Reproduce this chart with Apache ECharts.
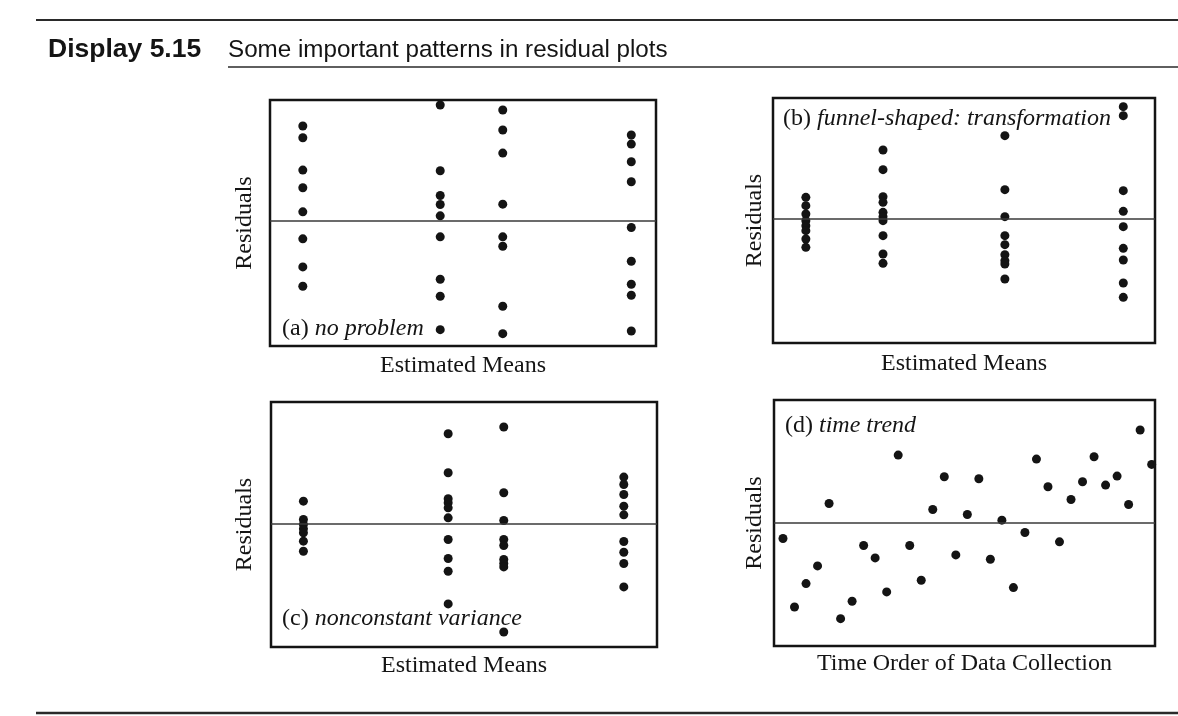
<!DOCTYPE html>
<html>
<head>
<meta charset="utf-8">
<style>
  html, body { margin: 0; padding: 0; background: #ffffff; }
  #chart { width: 1178px; height: 716px; }
</style>
<script src="https://cdn.jsdelivr.net/npm/echarts@6/dist/echarts.min.js"></script>
</head>
<body>
<div id="chart"></div>
<script>
// ---- Data ----
// Panel (a) no problem: estimated-mean positions of the four groups and residuals per group
const aMeans = [8.5, 44.1, 60.3, 93.6];
const aResiduals = [
  [2.84, 2.49, 1.52, 0.99, 0.27, -0.54, -1.38, -1.96],
  [3.47, 1.50, 0.76, 0.49, 0.15, -0.48, -1.75, -2.26, -3.26],
  [3.32, 2.72, 2.03, 0.50, -0.48, -0.76, -2.56, -3.38],
  [2.57, 2.30, 1.77, 1.17, -0.20, -1.21, -1.90, -2.23, -3.30]
];
// Panel (b) funnel-shaped
const bMeans = [8.6, 28.8, 60.7, 91.7];
const bResiduals = [
  [0.65, 0.40, 0.15, -0.05, -0.20, -0.35, -0.60, -0.85],
  [2.07, 1.48, 0.67, 0.50, 0.20, 0.07, -0.05, -0.50, -1.05, -1.33],
  [2.50, 0.88, 0.07, -0.50, -0.77, -1.07, -1.25, -1.35, -1.80],
  [3.37, 3.10, 0.85, 0.23, -0.23, -0.88, -1.23, -1.92, -2.35]
];
// Panel (c) nonconstant variance
const cMeans = [8.4, 45.9, 60.3, 91.4];
const cResiduals = [
  [0.68, 0.13, -0.02, -0.15, -0.27, -0.52, -0.82],
  [2.70, 1.53, 0.75, 0.63, 0.48, 0.18, -0.47, -1.04, -1.42, -2.40],
  [2.90, 0.93, 0.10, -0.47, -0.65, -1.07, -1.19, -1.29, -3.24],
  [1.40, 1.18, 0.88, 0.53, 0.27, -0.53, -0.85, -1.19, -1.89]
];
// Panel (d) time trend
const timeOrder = [1, 2, 3, 4, 5, 6, 7, 8, 9, 10, 11, 12, 13, 14, 15, 16, 17,
  18, 19, 20, 21, 22, 23, 24, 25, 26, 27, 28, 29, 30, 31, 32, 33];
const timeResiduals = [-0.48, -2.53, -1.83, -1.30, 0.57, -2.88, -2.36, -0.69, -1.06,
  -2.08, 2.02, -0.69, -1.73, 0.39, 1.37, -0.97, 0.24, 1.31, -1.10, 0.07, -1.95,
  -0.30, 1.90, 1.07, -0.58, 0.69, 1.22, 1.97, 1.12, 1.39, 0.54, 2.77, 1.74];

// Text
const captionNumber = 'Display 5.15';
const captionText = 'Some important patterns in residual plots';
const yName = 'Residuals';
const xNameMeans = 'Estimated Means';
const xNameTime = 'Time Order of Data Collection';
const panelTags = ['(a) ', '(b) ', '(c) ', '(d) '];
const panelDesc = ['no problem', 'funnel-shaped: transformation', 'nonconstant variance', 'time trend'];

// ---- Build ----
function columnsToPoints(means, resid) {
  const pts = [];
  means.forEach((m, i) => resid[i].forEach(r => pts.push([m, r])));
  return pts;
}
const dataA = columnsToPoints(aMeans, aResiduals);
const dataB = columnsToPoints(bMeans, bResiduals);
const dataC = columnsToPoints(cMeans, cResiduals);
const dataD = timeOrder.map((t, i) => [t, timeResiduals[i]]);

const SERIF = '"Liberation Serif", "DejaVu Serif", serif';
const SANS = '"Liberation Sans", Arial, sans-serif';
const INK = '#141414';

const grids = [
  { left: 270, top: 100, width: 386, height: 246 },
  { left: 773, top: 98, width: 382, height: 245 },
  { left: 271, top: 402, width: 386, height: 245 },
  { left: 774, top: 400, width: 381, height: 246 }
].map(g => Object.assign({ show: true, borderColor: INK, borderWidth: 2.5, backgroundColor: 'transparent' }, g));

const yRanges = [[-3.75, 3.62], [-3.72, 3.63], [-3.69, 3.65], [-3.70, 3.67]];
const xRanges = [[0, 100], [0, 100], [0, 100], [0.22, 33.29]];
const xNames = [xNameMeans, xNameMeans, xNameMeans, xNameTime];
const xGaps = [8, 9, 7, 6];
const yGaps = [13, 6, 14, 7];

const hidden = {
  axisLine: { show: false }, axisTick: { show: false },
  axisLabel: { show: false }, splitLine: { show: false }
};
const nameStyle = { fontFamily: SERIF, fontSize: 24, color: INK };

const xAxis = xRanges.map((r, i) => Object.assign({
  type: 'value', gridIndex: i, min: r[0], max: r[1],
  name: xNames[i], nameLocation: 'middle', nameGap: xGaps[i], nameTextStyle: nameStyle
}, hidden));
const yAxis = yRanges.map((r, i) => Object.assign({
  type: 'value', gridIndex: i, min: r[0], max: r[1],
  name: yName, nameLocation: 'middle', nameGap: yGaps[i], nameTextStyle: nameStyle
}, hidden));

const allData = [dataA, dataB, dataC, dataD];
const series = allData.map((d, i) => ({
  type: 'scatter', xAxisIndex: i, yAxisIndex: i, data: d,
  symbolSize: 9, itemStyle: { color: INK, opacity: 1 },
  silent: true, z: 3,
  markLine: {
    silent: true, symbol: 'none', animation: false,
    label: { show: false },
    lineStyle: { color: '#3a3a3a', width: 1.6, type: 'solid' },
    data: [{ yAxis: 0 }]
  }
}));

const tagPos = [[282, 329], [783, 119], [282, 619], [785, 426]];
const panelLabels = tagPos.map((p, i) => ({
  type: 'text', x: p[0], y: p[1], z: 10,
  style: {
    text: '{t|' + panelTags[i] + '}{d|' + panelDesc[i] + '}',
    verticalAlign: 'middle',
    rich: {
      t: { fontFamily: SERIF, fontSize: 24, fontStyle: 'normal', fill: INK, color: INK },
      d: { fontFamily: SERIF, fontSize: 24, fontStyle: 'italic', fill: INK, color: INK }
    }
  }
}));

const graphic = [
  { type: 'line', shape: { x1: 36, y1: 20, x2: 1178, y2: 20 }, style: { stroke: '#2a2a2a', lineWidth: 2 } },
  { type: 'line', shape: { x1: 228, y1: 67, x2: 1178, y2: 67 }, style: { stroke: '#2a2a2a', lineWidth: 1.6 } },
  { type: 'line', shape: { x1: 36, y1: 713, x2: 1178, y2: 713 }, style: { stroke: '#2a2a2a', lineWidth: 2.5 } },
  { type: 'text', x: 48, y: 50, style: { text: captionNumber, fontFamily: SANS, fontSize: 26.5, fontWeight: 'bold', fill: INK, verticalAlign: 'middle' } },
  { type: 'text', x: 228, y: 50, style: { text: captionText, fontFamily: SANS, fontSize: 24.2, fill: INK, verticalAlign: 'middle' } }
].concat(panelLabels);

const chart = echarts.init(document.getElementById('chart'), null, { renderer: 'canvas' });
chart.setOption({
  backgroundColor: '#ffffff',
  animation: false,
  grid: grids,
  xAxis: xAxis,
  yAxis: yAxis,
  series: series,
  graphic: graphic
});
</script>
</body>
</html>
